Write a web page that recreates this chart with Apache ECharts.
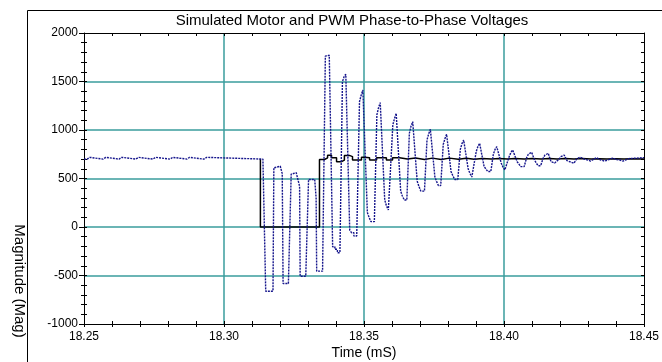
<!DOCTYPE html>
<html>
<head>
<meta charset="utf-8">
<script src="https://cdn.jsdelivr.net/npm/echarts@6/dist/echarts.min.js"></script>
<style>
  html, body { margin: 0; padding: 0; background: #fff; }
  #chart { width: 662px; height: 362px; }
</style>
</head>
<body>
<div id="chart"></div>
<script>
const FONT = "'Liberation Sans', Arial, Helvetica, sans-serif";

// Axis ranges and tick steps
const timeRange = [18.25, 18.45];
const timeLabelStep = 0.05;
const timeMinorStep = 0.01;
const voltRange = [-1000, 2000];
const voltLabelStep = 500;
const voltMinorStep = 100;

// PWM phase-to-phase voltage: time (mS) where each level starts, and the level (V)
const pwmTime = [18.3130, 18.3130, 18.3341, 18.3359, 18.3370, 18.3384, 18.3402, 18.3420, 18.3430,
  18.3448, 18.3459, 18.3491, 18.3502, 18.3520, 18.3545, 18.3580, 18.3602, 18.3627, 18.3655,
  18.3684, 18.3716, 18.3744, 18.3776, 18.3805, 18.3837, 18.3865, 18.3894, 18.3922, 18.3955,
  18.3983, 18.4012, 18.4040, 18.4072, 18.4101, 18.4133, 18.4161, 18.4190, 18.4218, 18.4250,
  18.4279, 18.4311, 18.4340, 18.4368, 18.4397, 18.4429, 18.4457];
const pwmVolt = [700, 0, 696, 713, 740, 713, 673, 690, 738,
  726, 690, 720, 713, 690, 713, 690, 713, 700, 712,
  695, 710, 697, 710, 698, 708, 698, 707, 700, 707,
  700, 706, 701, 706, 700, 705, 700, 705, 700, 705,
  700, 704, 700, 704, 700, 704, 700];

// Motor voltage before the switching event: small periodic blips on the 700 V level
// [start mS, end mS, level V]
const motorBlips = [
  [18.2511, 18.2521, 718], [18.2568, 18.2578, 718], [18.2625, 18.2635, 718],
  [18.2685, 18.2695, 718], [18.2746, 18.2756, 718], [18.2807, 18.2817, 718],
  [18.2867, 18.2877, 718], [18.2928, 18.2938, 718]
];

// Motor voltage while the PWM is at zero: corner points
const motorDipTime = [18.3139, 18.3149, 18.3175, 18.3178, 18.3185, 18.3201, 18.3208,
  18.3211, 18.3230, 18.3240, 18.3244, 18.3258, 18.3270, 18.3272, 18.3292, 18.3302, 18.3324,
  18.3329, 18.3331, 18.3352];
const motorDipVolt = [700, -662, -662, 610, 627, 627, 550,
  -582, -582, 545, 559, 559, 420, -507, -507, 490, 490,
  300, -455, -455];

// Motor ringing after the PWM returns: one row per plateau [start mS, end mS, level V]
const motorRing = [
  [18.3362, 18.3369, 1762], [18.3369, 18.3376, 1770], [18.3376, 18.3383, 1780],
  [18.3388, 18.3396, -203], [18.3396, 18.3405, -230], [18.3405, 18.3414, -265],
  [18.3423, 18.3429, 1498], [18.3429, 18.3435, 1550], [18.3435, 18.3442, 1575],
  [18.3449, 18.3456, -31], [18.3456, 18.3464, -60], [18.3464, 18.3474, -93],
  [18.3484, 18.3490, 1292], [18.3490, 18.3496, 1360], [18.3496, 18.3502, 1412],
  [18.3512, 18.3518, 150], [18.3518, 18.3525, 100], [18.3525, 18.3537, 55],
  [18.3546, 18.3552, 1155], [18.3552, 18.3558, 1230], [18.3558, 18.3564, 1282],
  [18.3574, 18.3580, 280], [18.3580, 18.3587, 220], [18.3587, 18.3594, 175],
  [18.3603, 18.3609, 1052], [18.3609, 18.3615, 1120], [18.3615, 18.3621, 1172],
  [18.3631, 18.3637, 370], [18.3637, 18.3644, 320], [18.3644, 18.3653, 278],
  [18.3662, 18.3668, 966], [18.3668, 18.3674, 1040], [18.3674, 18.3680, 1086],
  [18.3690, 18.3696, 472], [18.3696, 18.3703, 420], [18.3703, 18.3716, 370],
  [18.3725, 18.3731, 897], [18.3731, 18.3737, 960], [18.3737, 18.3743, 1007],
  [18.3753, 18.3759, 520], [18.3759, 18.3766, 470], [18.3766, 18.3774, 427],
  [18.3783, 18.3789, 850], [18.3789, 18.3795, 910], [18.3795, 18.3801, 956],
  [18.3811, 18.3817, 570], [18.3817, 18.3824, 530], [18.3824, 18.3835, 490],
  [18.3844, 18.3850, 800], [18.3850, 18.3856, 860], [18.3856, 18.3862, 897],
  [18.3872, 18.3878, 600], [18.3878, 18.3885, 555], [18.3885, 18.3892, 515],
  [18.3901, 18.3907, 780], [18.3907, 18.3913, 830], [18.3913, 18.3919, 863],
  [18.3929, 18.3935, 623], [18.3935, 18.3942, 600], [18.3942, 18.3953, 572],
  [18.3962, 18.3968, 750], [18.3968, 18.3974, 800], [18.3974, 18.3980, 828],
  [18.3990, 18.3996, 660], [18.3996, 18.4003, 620], [18.4003, 18.4010, 588],
  [18.4019, 18.4025, 730], [18.4025, 18.4031, 770], [18.4031, 18.4037, 794],
  [18.4047, 18.4053, 673], [18.4053, 18.4060, 650], [18.4060, 18.4072, 622],
  [18.4081, 18.4087, 715], [18.4087, 18.4093, 750], [18.4093, 18.4099, 770],
  [18.4109, 18.4115, 690], [18.4115, 18.4122, 660], [18.4122, 18.4131, 632],
  [18.4140, 18.4146, 710], [18.4146, 18.4152, 740], [18.4152, 18.4158, 760],
  [18.4168, 18.4174, 673], [18.4174, 18.4181, 660], [18.4181, 18.4188, 650],
  [18.4197, 18.4203, 700], [18.4203, 18.4209, 725], [18.4209, 18.4215, 742],
  [18.4225, 18.4231, 684], [18.4231, 18.4238, 670], [18.4238, 18.4250, 657],
  [18.4259, 18.4265, 700], [18.4265, 18.4271, 720], [18.4271, 18.4277, 735],
  [18.4287, 18.4293, 700], [18.4293, 18.4300, 690], [18.4300, 18.4309, 680],
  [18.4318, 18.4324, 695], [18.4324, 18.4330, 715], [18.4330, 18.4336, 730],
  [18.4346, 18.4352, 690], [18.4352, 18.4359, 680], [18.4359, 18.4366, 672],
  [18.4375, 18.4381, 695], [18.4381, 18.4387, 710], [18.4387, 18.4393, 720],
  [18.4403, 18.4409, 695], [18.4409, 18.4416, 688], [18.4416, 18.4425, 680],
  [18.4434, 18.4440, 690], [18.4440, 18.4446, 705], [18.4446, 18.4500, 715]
];

// ---- build series data ----
const pwmData = pwmTime.map((t, i) => [t, pwmVolt[i]]);
pwmData.push([timeRange[1], pwmVolt[pwmVolt.length - 1]]);

const motorData = [[timeRange[0], 700]];
motorBlips.forEach(([t0, t1, v]) => {
  motorData.push([t0, 700], [t0, v], [t1, v], [t1, 700]);
});
motorDipTime.forEach((t, i) => motorData.push([t, motorDipVolt[i]]));
motorRing.forEach(([t0, t1, v]) => { motorData.push([t0, v], [t1, v]); });

const GRID_COLOR = '#3a9d9d';
const tickFont = { color: '#000', fontSize: 12, fontFamily: FONT };

function minorAxis(kind, position, step, inside, showLine) {
  const range = kind === 'x' ? timeRange : voltRange;
  return {
    type: 'value', position, min: range[0], max: range[1], interval: step,
    axisLine: { show: showLine, onZero: false, lineStyle: { color: '#000', width: 1 } },
    axisTick: { show: true, inside, length: 3, lineStyle: { color: '#000', width: 1 } },
    axisLabel: { show: false },
    splitLine: { show: false }
  };
}

const chart = echarts.init(document.getElementById('chart'), null, { renderer: 'canvas' });
chart.setOption({
  animation: false,
  backgroundColor: '#fff',
  grid: { left: 84, right: 17, top: 33, bottom: 38, containLabel: false },
  xAxis: [
    {
      type: 'value', position: 'bottom', min: timeRange[0], max: timeRange[1], interval: timeLabelStep,
      axisLine: { show: true, onZero: false, lineStyle: { color: '#000', width: 1 } },
      axisTick: { show: true, inside: false, length: 3, lineStyle: { color: '#000' } },
      axisLabel: { show: true, margin: 7, formatter: v => v.toFixed(2), ...tickFont },
      splitLine: { show: true, showMinLine: false, showMaxLine: false, lineStyle: { color: GRID_COLOR, width: 1.5 } }
    },
    minorAxis('x', 'bottom', timeMinorStep, false, false),
    minorAxis('x', 'bottom', timeMinorStep, true, false),
    minorAxis('x', 'top', timeMinorStep, true, true)
  ],
  yAxis: [
    {
      type: 'value', position: 'left', min: voltRange[0], max: voltRange[1], interval: voltLabelStep,
      axisLine: { show: true, onZero: false, lineStyle: { color: '#000', width: 1 } },
      axisTick: { show: true, inside: false, length: 5, lineStyle: { color: '#000' } },
      axisLabel: { show: true, margin: 6, formatter: v => String(v), ...tickFont },
      splitLine: { show: true, showMinLine: false, showMaxLine: false, lineStyle: { color: GRID_COLOR, width: 1.5 } }
    },
    minorAxis('y', 'left', voltMinorStep, false, false),
    minorAxis('y', 'left', voltMinorStep, true, false),
    minorAxis('y', 'right', voltMinorStep, true, true)
  ],
  series: [
    {
      name: 'PWM', type: 'line', xAxisIndex: 0, yAxisIndex: 0, step: 'end',
      data: pwmData, showSymbol: false, z: 3,
      lineStyle: { color: '#000', width: 1.5 }
    },
    {
      name: 'Motor', type: 'line', xAxisIndex: 0, yAxisIndex: 0,
      data: motorData, showSymbol: false, z: 4,
      lineStyle: { color: '#15158c', width: 1.4, type: [2, 1] }
    }
  ],
  graphic: [
    {
      type: 'polyline', silent: true, z: 10,
      shape: { points: [[27.5, 362], [27.5, 10.5], [662, 10.5]] },
      style: { stroke: '#000', lineWidth: 1, fill: null }
    },
    {
      type: 'text', x: 352, y: 21, z: 10,
      style: { text: 'Simulated Motor and PWM Phase-to-Phase Voltages', fill: '#000',
        font: '15px ' + FONT, align: 'center', verticalAlign: 'middle',
        textAlign: 'center', textVerticalAlign: 'middle' }
    },
    {
      type: 'text', x: 364, y: 353, z: 10,
      style: { text: 'Time (mS)', fill: '#000',
        font: '14px ' + FONT, align: 'center', verticalAlign: 'middle',
        textAlign: 'center', textVerticalAlign: 'middle' }
    },
    {
      type: 'text', x: 19, y: 281, z: 10, rotation: -Math.PI / 2,
      style: { text: 'Magnitude (Mag)', fill: '#000',
        font: '15px ' + FONT, align: 'center', verticalAlign: 'middle',
        textAlign: 'center', textVerticalAlign: 'middle' }
    }
  ]
});
</script>
</body>
</html>
